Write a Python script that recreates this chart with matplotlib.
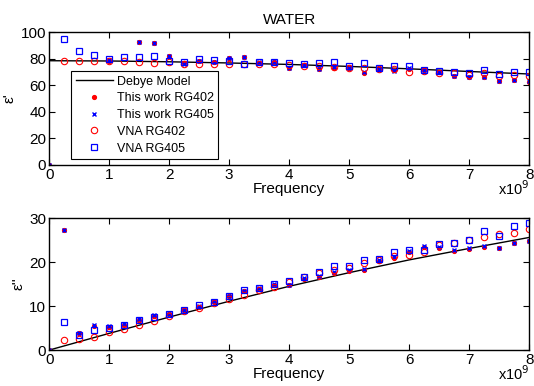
import numpy as np
import matplotlib
matplotlib.use("Agg")
import matplotlib.pyplot as plt

plt.rcParams['font.family'] = ['Liberation Sans', 'DejaVu Sans']
plt.rcParams['font.size'] = 10

# Frecuencias en GHz (eje mostrado con x10^9)
f_meas = np.arange(0, 33) * 0.25
f_vna = np.arange(1, 33) * 0.25
f_debye = [0, 1, 2, 3, 4, 5, 6, 7, 8]

# Modelo de Debye
debye_re = [78.4, 78.2, 77.6, 76.7, 75.6, 74.1, 72.3, 70.3, 68.4]
debye_im = [0, 3.8, 7.5, 11.1, 14.5, 17.6, 20.5, 23.1, 25.6]

nan = np.nan
# epsilon' (parte real)
rg402_re = [0, nan, nan, nan, 78.5, nan, 92.8, 92.1, 82.0, 76.5, 78.3, 77.3, 80.8,
            81.3, 77.0, 77.5, 73.2, 75.2, 72.5, 73.2, 73.0, 69.4, 72.5, 71.2, 72.5,
            71.4, 70.0, 67.0, 66.0, 66.0, 63.2, 63.7, 62.6]
rg405_re = [0, nan, nan, nan, 78.8, nan, 92.6, 91.9, 81.7, 76.3, 78.5, 77.1, 80.5,
            81.0, 77.2, 77.3, 73.0, 75.0, 72.3, 73.4, 72.8, 69.6, 72.3, 71.0, 72.7,
            71.2, 70.2, 67.2, 65.8, 66.2, 63.0, 63.9, 62.8]
vna402_re = [78.3, 78.3, 78.3, 78.3, 78.3, 77.5, 77.0, 77.7, 76.2, 76.2, 76.0, 76.0,
             75.8, 75.8, 76.2, 75.2, 74.7, 74.5, 74.0, 73.2, 72.7, 72.5, 72.0, 70.2,
             71.0, 69.5, 69.0, 68.0, 69.5, 67.0, 68.0, 66.7]
vna405_re = [94.9, 86.0, 83.0, 79.8, 81.3, 81.3, 82.3, 78.5, 77.8, 79.8, 79.3, 78.5,
             76.2, 77.7, 77.7, 76.5, 75.8, 76.5, 77.3, 74.7, 76.5, 73.2, 74.7, 74.5,
             71.4, 71.0, 70.2, 69.0, 71.4, 68.4, 69.7, 69.7]

# epsilon'' (parte imaginaria)
rg402_im = [0, 27.2, 3.8, 5.5, 5.2, 5.8, 6.8, 7.7, 8.1, 9.1, 9.9, 11.0, 12.2, 13.4,
            13.8, 14.9, 14.7, 16.2, 16.7, 17.6, 18.0, 18.3, 20.3, 20.9, 22.4, 23.5,
            23.2, 22.6, 23.0, 23.5, 23.2, 24.3, 24.7]
rg405_im = [0, 27.3, 4.0, 5.7, 5.4, 6.0, 7.0, 7.9, 8.3, 9.2, 10.0, 11.1, 12.4, 13.5,
            14.0, 15.0, 14.8, 16.3, 16.9, 17.7, 18.1, 18.5, 20.4, 21.1, 22.5, 23.6,
            23.4, 22.7, 23.1, 23.6, 23.3, 24.4, 24.8]
vna402_im = [2.3, 2.5, 3.0, 4.1, 4.9, 5.8, 6.7, 7.8, 8.9, 9.5, 10.8, 11.5, 12.5, 13.7,
             14.4, 15.4, 16.5, 17.5, 18.2, 18.7, 19.9, 20.4, 21.3, 21.6, 22.4, 23.9,
             24.3, 25.0, 25.6, 26.4, 26.7, 27.5]
vna405_im = [6.3, 3.4, 4.6, 5.0, 5.8, 6.8, 7.6, 8.1, 9.1, 10.3, 11.0, 12.3, 13.6,
             14.0, 15.0, 15.6, 16.7, 17.8, 19.0, 19.0, 20.5, 20.6, 22.2, 22.8, 22.8,
             24.2, 24.4, 25.1, 27.1, 26.0, 28.1, 28.9]


def dibujar(ax, d_re, a, b, c, d):
    ax.plot(f_debye, d_re, color='k', lw=1.0, label='Debye Model')
    ax.plot(f_meas, a, '.', color='red', ms=5.5, label='This work RG402')
    ax.plot(f_meas, b, 'x', color='blue', ms=3.2, mew=1.0, label='This work RG405')
    ax.plot(f_vna, c, 'o', mfc='none', mec='red', ms=4.6, mew=0.8, label='VNA RG402')
    ax.plot(f_vna, d, 's', mfc='none', mec='blue', ms=4.6, mew=0.9, label='VNA RG405')
    ax.set_xlim(0, 8)
    ax.set_xticks(range(9))
    ax.tick_params(direction='in', top=True, right=True, length=4, width=0.8,
                   labelsize=11, pad=2)
    for s in ax.spines.values():
        s.set_linewidth(1.0)
    ax.set_xlabel('Frequency', fontsize=11, labelpad=0)
    ax.text(1.0, -0.18, 'x10$^{9}$', transform=ax.transAxes, ha='right',
            va='center', fontsize=10.5)


fig = plt.figure(figsize=(5.34, 3.86), dpi=100)
ax1 = fig.add_axes([0.092, 0.573, 0.899, 0.344])
ax2 = fig.add_axes([0.092, 0.093, 0.899, 0.342])

dibujar(ax1, debye_re, rg402_re, rg405_re, vna402_re, vna405_re)
ax1.set_ylim(0, 100)
ax1.set_yticks([0, 20, 40, 60, 80, 100])
ax1.set_ylabel("ε'", fontsize=11, labelpad=3)
ax1.set_title('WATER', fontsize=11, pad=6)
leg = ax1.legend(loc='upper left', bbox_to_anchor=(0.046, 0.705), fontsize=9,
                 fancybox=False, edgecolor='k', framealpha=1, borderaxespad=0,
                 handlelength=3.0, borderpad=0.35, labelspacing=0.38,
                 handletextpad=0.3)
leg.get_frame().set_linewidth(0.8)

dibujar(ax2, debye_im, rg402_im, rg405_im, vna402_im, vna405_im)
ax2.set_ylim(0, 30)
ax2.set_yticks([0, 10, 20, 30])
ax2.set_ylabel("ε''", fontsize=11, labelpad=3)

fig.savefig('out.png', dpi=100)
